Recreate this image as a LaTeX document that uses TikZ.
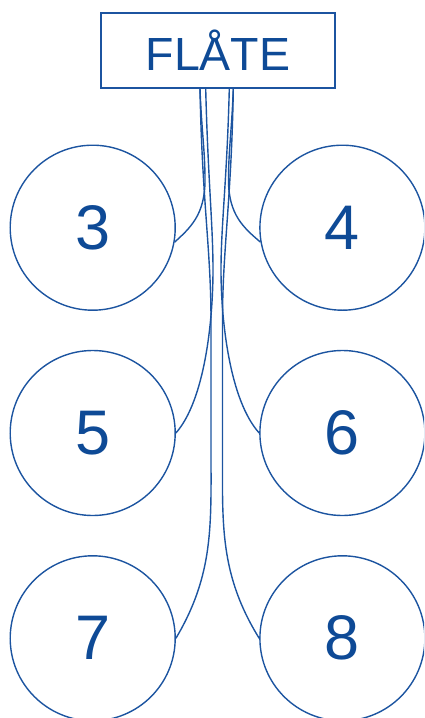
\documentclass[tikz,border=0pt]{standalone}
\usepackage{fontspec}
\setmainfont{Liberation Sans}
\definecolor{flblue}{RGB}{14,74,150}
\definecolor{lnblue}{RGB}{28,84,160}
\begin{document}
\begin{tikzpicture}[x=1pt,y=-1pt,
  num/.style={circle,draw=lnblue,line width=1.4pt,minimum size=165pt,inner sep=0pt,text=flblue,font=\fontsize{63}{63}\selectfont},
  lbl/.style={draw=lnblue,line width=1.4pt,minimum width=234pt,minimum height=75pt,inner sep=0pt,text=flblue,font=\fontsize{46.5}{46.5}\selectfont},
  wire/.style={draw=lnblue,line width=1.4pt}]
\useasboundingbox (0,0) rectangle (424,718);
\clip (0,0) rectangle (424,718);
\node[lbl] (f) at (218,50.5) {FLÅTE};
\node[num] (c3) at (92.7,227.7) {3};
\node[num] (c4) at (342.4,227.7) {4};
\node[num] (c5) at (92.7,433) {5};
\node[num] (c6) at (342.4,433) {6};
\node[num] (c7) at (92.7,638.3) {7};
\node[num] (c8) at (342.4,638.3) {8};
% left side
\draw[wire] ([xshift=-18pt]f.south) .. controls (201.5,130) and (205,150) .. (205,180)
  .. controls (205,215) and (190,228) .. (c3.-10);
\draw[wire] ([xshift=-12.3pt]f.south) .. controls (208,180) and (213,225) .. (213,270)
  .. controls (213,320) and (205,400) .. (c5.east);
\draw[wire] ([xshift=-18pt]f.south) .. controls (202,200) and (211,250) .. (211,320)
  -- (211,450) .. controls (211,525) and (214,574) .. (c7.east);
% right side
\draw[wire] ([xshift=15.3pt]f.south) .. controls (231.8,130) and (228.5,150) .. (228.5,180)
  .. controls (228.5,215) and (244,228) .. (c4.190);
\draw[wire] ([xshift=11.3pt]f.south) .. controls (227,180) and (221,225) .. (221,270)
  .. controls (221,320) and (229.5,400) .. (c6.west);
\draw[wire] ([xshift=15.3pt]f.south) .. controls (231.5,200) and (222.5,250) .. (222.5,320)
  -- (222.5,450) .. controls (222.5,525) and (219.5,574) .. (c8.west);
\end{tikzpicture}
\end{document}
